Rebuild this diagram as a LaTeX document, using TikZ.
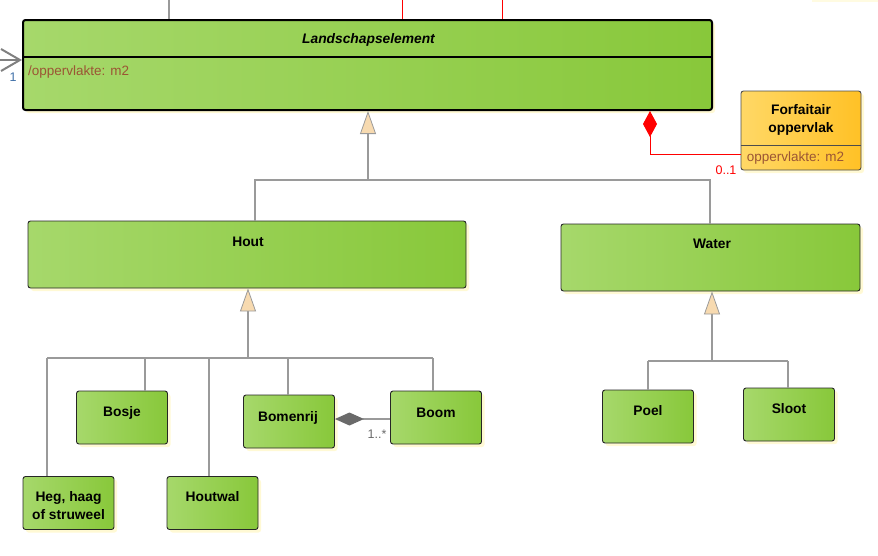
\documentclass[tikz,border=0pt]{standalone}
\usepackage{fontspec}
\setmainfont{Liberation Sans}
\usetikzlibrary{arrows.meta,shadows,calc}
\definecolor{gL}{HTML}{A6D86B}
\definecolor{gR}{HTML}{88C83A}
\definecolor{oL}{HTML}{FFD866}
\definecolor{oR}{HTML}{FFC126}
\definecolor{attrc}{HTML}{9B5534}
\definecolor{lnk}{HTML}{9A9A9A}
\definecolor{tri}{HTML}{F7DAB0}
\definecolor{shad}{HTML}{FFF9D4}
\definecolor{mblue}{HTML}{3F6FA8}
\definecolor{dgray}{HTML}{6A6A6A}
\begin{document}
\begin{tikzpicture}[x=1pt,y=-1pt,
  shadowed/.style={drop shadow={shadow xshift=3pt,shadow yshift=-3pt,fill=shad,opacity=1}},
  box/.style={shadowed,draw=black!85,line width=0.9pt,rounded corners=2.5pt,left color=gL,right color=gR,inner sep=0pt},
  obox/.style={shadowed,draw=black!70,line width=0.9pt,rounded corners=2.5pt,left color=oL,right color=oR,inner sep=0pt},
  small/.style={box,minimum width=91pt,minimum height=53pt},
  ttl/.style={font=\fontsize{13.8}{18}\selectfont\bfseries,align=center,inner sep=0pt},
  attr/.style={font=\fontsize{13.5}{15}\selectfont,text=attrc,inner sep=0pt,anchor=west},
  mult/.style={font=\fontsize{12.5}{14}\selectfont,inner sep=0pt},
  genl/.style={draw=lnk,line width=1.1pt},
  gen/.style={genl,-{Triangle[length=23pt,width=16pt,fill=tri,line width=0.8pt]}},
  ]
\useasboundingbox (0,0) rectangle (878,555);
\fill[shad!70] (812,0) rectangle (878,2);

% ---- Landschapselement
\node[box,draw=black,line width=2pt,minimum width=689pt,minimum height=90pt] (land) at (367.5,65) {};
\draw[black,line width=2pt] ($(land.north west)+(0,38)$) -- ($(land.north east)+(0,38)$);
\node[ttl,font=\fontsize{13.8}{16}\selectfont\bfseries\itshape] (landT) at ($(land.north)+(1,21)$) {Landschapselement};
\node[attr] (landA) at ($(land.north west)+(6,53)$) {/oppervlakte: m2};

% top connectors
\coordinate (t1) at (169,0);
\coordinate (t2) at (402,0);
\coordinate (t3) at (502,0);
\draw[genl] (t1) -- (t1 |- land.north);
\draw[red,line width=1pt] (t2) -- (t2 |- land.north);
\draw[red,line width=1pt] (t3) -- (t3 |- land.north);

% left association
\coordinate (la) at (0,60);
\draw[draw=dgray!85,line width=2pt,-{Straight Barb[length=19pt,width=22pt,line width=2pt]}] (la) -- (la -| land.west);
\node[mult,text=mblue] (m1) at (13,77) {1};

% ---- Forfaitair oppervlak
\node[obox,minimum width=120pt,minimum height=79pt] (forf) at (801,130.5) {};
\draw[black!70,line width=0.9pt] ($(forf.north west)+(0,55)$) -- ($(forf.north east)+(0,55)$);
\node[ttl] (forfT) at ($(forf.north)+(0,29)$) {Forfaitair\\oppervlak};
\node[attr] (forfA) at ($(forf.north west)+(6,67)$) {oppervlakte: m2};

\coordinate (rc) at (650,154);
\draw[red,line width=1pt,-{Diamond[length=26pt,width=14pt,fill=red]}] (forf.west |- rc) -| (land.south -| rc);
\node[mult,text=red] (m2) at (726,170) {0..1};

% ---- Hout / Water
\node[box,minimum width=438pt,minimum height=67pt] (hout) at (247,254.5) {};
\node[ttl] (houtT) at ($(hout.north)+(1,21)$) {Hout};
\node[box,minimum width=299pt,minimum height=67pt] (water) at (710.5,257.5) {};
\node[ttl] (waterT) at ($(water.north)+(1.5,20)$) {Water};

\coordinate (g1) at (368,180);
\coordinate (g1h) at (255,180);
\coordinate (g1w) at (710,180);
\draw[gen] (g1) -- (g1 |- land.south);
\draw[genl] (hout.north -| g1h) -- (g1h) -- (g1w) -- (water.north -| g1w);

% ---- Hout children
\node[small] (heg) at (68.5,503) {};
\node[ttl,align=center] (hegT) at ($(heg.center)+(0,3)$) {Heg, haag\\of struweel};
\node[small] (bosje) at (122,417.5) {};
\node[ttl] (bosjeT) at ($(bosje.center)+(0,-5)$) {Bosje};
\node[small] (houtwal) at (212.5,503) {};
\node[ttl] (houtwalT) at ($(houtwal.center)+(0,-6)$) {Houtwal};
\node[small] (bomenrij) at (289,421.5) {};
\node[ttl] (bomenrijT) at ($(bomenrij.center)+(-1,-4)$) {Bomenrij};
\node[small] (boom) at (436,417.5) {};
\node[ttl] (boomT) at ($(boom.center)+(0,-5)$) {Boom};

\coordinate (g2) at (248,358);
\draw[gen] (g2) -- (g2 |- hout.south);
\coordinate (b1) at (47,358);
\coordinate (b2) at (145,358);
\coordinate (b3) at (209,358);
\coordinate (b4) at (288,358);
\coordinate (b5) at (433,358);
\draw[genl] (b1) -- (b5);
\draw[genl] (b1) -- (b1 |- heg.north);
\draw[genl] (b2) -- (b2 |- bosje.north);
\draw[genl] (b3) -- (b3 |- houtwal.north);
\draw[genl] (b4) -- (b4 |- bomenrij.north);
\draw[genl] (b5) -- (b5 |- boom.north);

% aggregation Bomenrij - Boom
\coordinate (ag) at (0,419);
\draw[genl,-{Diamond[length=29pt,width=13pt,fill=dgray,color=dgray]}] (boom.west |- ag) -- (bomenrij.east |- ag);
\node[mult,text=dgray] (m3) at (377,434) {1..*};

% ---- Water children
\node[small] (poel) at (648,416.5) {};
\node[ttl] (poelT) at ($(poel.center)+(0,-6)$) {Poel};
\node[small] (sloot) at (789,414.5) {};
\node[ttl] (slootT) at ($(sloot.center)+(0,-6)$) {Sloot};

\coordinate (g3) at (712,361);
\draw[gen] (g3) -- (g3 |- water.south);
\coordinate (c1) at (648,361);
\coordinate (c2) at (788,361);
\draw[genl] (c1) -- (c2);
\draw[genl] (c1) -- (c1 |- poel.north);
\draw[genl] (c2) -- (c2 |- sloot.north);
\end{tikzpicture}
\end{document}
